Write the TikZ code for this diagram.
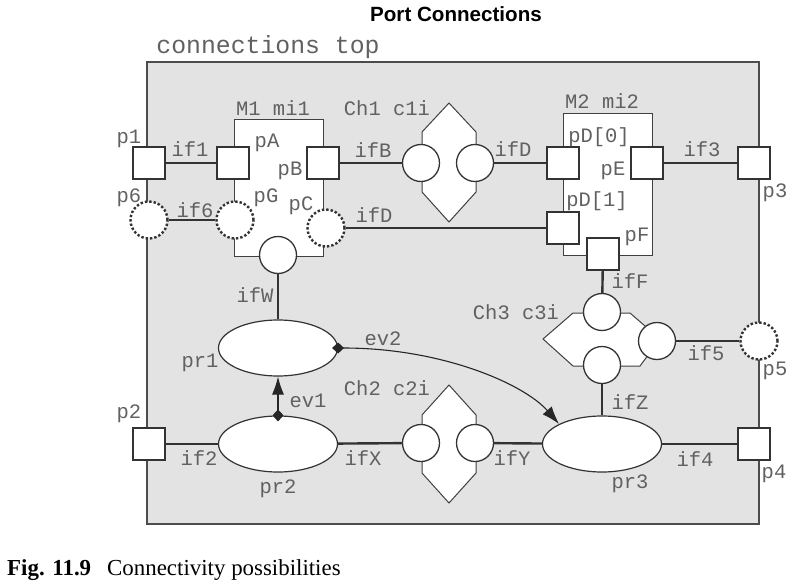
\documentclass[tikz,border=0pt]{standalone}
\usepackage{fontspec}
\setmainfont{Liberation Serif}
\setsansfont{Liberation Sans}
\setmonofont{Liberation Mono}
\usetikzlibrary{shapes.geometric,arrows.meta}

\begin{document}
\begin{tikzpicture}
  [x=1pt, y=-1pt,
    TopBox/.style={rectangle, draw=black!70, fill=black!11, line width=1.2pt, minimum width=612pt, minimum height=462pt, inner sep=0pt},
    ModNode/.style={rectangle, draw=black!75, fill=white, line width=1pt, inner sep=0pt},
    PortNode/.style={rectangle, draw=black!80, fill=white, line width=2pt, minimum size=32pt, inner sep=0pt},
    DotNode/.style={circle, draw=black!80, fill=white, line width=2.4pt, dash pattern=on 2.4pt off 2pt, minimum size=37pt, inner sep=0pt},
    CircNode/.style={circle, draw=black!80, fill=white, line width=1.3pt, minimum size=37pt, inner sep=0pt},
    ProcNode/.style={ellipse, draw=black!80, fill=white, line width=1.2pt, minimum width=119pt, minimum height=56pt, inner sep=0pt},
    ChanShape/.style={draw=black!75, fill=white, line width=1pt},
    LblNode/.style={font=\ttfamily\fontsize{20.5}{22}\selectfont, text=black!62, anchor=base, inner sep=0pt},
    Wire/.style={draw=black!80, line width=2.4pt},
    EvLine/.style={draw=black!85, line width=1.1pt, {Diamond[length=12pt,width=11pt]}-{Latex[length=18pt,width=12pt]}}]
    \useasboundingbox (0,0) rectangle (792,586);
    \node [font=\sffamily\bfseries\fontsize{20.6}{22}\selectfont, anchor=base] (title) at (456,22) {Port Connections};
    \node [LblNode, font=\ttfamily\fontsize{24.8}{26}\selectfont] (topname) at (268,53) {connections top};
    \node [TopBox] (top) at (453,293) {};
    \node [ModNode, minimum width=89pt, minimum height=137pt] (mi1) at (278.5,187.5) {};
    \node [ModNode, minimum width=89pt, minimum height=142pt] (mi2) at (607.5,184) {};
    \draw [ChanShape] (449,103) -- (476,132) -- (476,192) -- (449,222) -- (422,192) -- (422,132) -- cycle;
    \draw [ChanShape] (449,385) -- (476,415) -- (476,473) -- (449,503) -- (422,473) -- (422,415) -- cycle;
    \draw [ChanShape] (543,339) -- (573,313) -- (630,313) -- (660,339) -- (640,366) -- (573,366) -- cycle;
    \node [PortNode] (p1) at (149,163) {};
    \node [PortNode] (pA) at (233,163) {};
    \node [PortNode] (pB) at (323,163) {};
    \node [DotNode] (p6) at (149,220) {};
    \node [DotNode] (pG) at (235,220) {};
    \node [DotNode] (pC) at (326,228) {};
    \node [CircNode] (pW) at (278,255) {};
    \node [CircNode] (c1iL) at (421,163) {};
    \node [CircNode] (c1iR) at (475,163) {};
    \node [PortNode] (pD0) at (563,163) {};
    \node [PortNode] (pE) at (647,163) {};
    \node [PortNode] (pD1) at (563,228) {};
    \node [PortNode] (pF) at (603,254) {};
    \node [PortNode] (p3) at (754,163) {};
    \node [CircNode] (c3iT) at (602,312) {};
    \node [CircNode] (c3iB) at (602,365) {};
    \node [CircNode] (c3iR) at (657,341) {};
    \node [DotNode] (p5) at (759,341) {};
    \node [ProcNode] (pr1) at (278,348) {};
    \node [ProcNode] (pr2) at (278,444) {};
    \node [ProcNode] (pr3) at (602,444) {};
    \node [CircNode] (c2iL) at (421,443) {};
    \node [CircNode] (c2iR) at (475,443) {};
    \node [PortNode] (p2) at (149,444) {};
    \node [PortNode] (p4) at (754,444) {};
    \draw [Wire] (p1) -- (pA);
    \draw [Wire] (p6) -- (pG);
    \draw [Wire] (pB) -- (c1iL);
    \draw [Wire] (c1iR) -- (pD0);
    \draw [Wire] (pC) -- (pD1);
    \draw [Wire] (pE) -- (p3);
    \draw [Wire] (pF) -- (c3iT);
    \draw [Wire] (c3iR) -- (p5);
    \draw [Wire] (c3iB) -- (pr3);
    \draw [Wire] (pW) -- (pr1);
    \draw [Wire] (p2) -- (pr2);
    \draw [Wire] (pr2) -- (c2iL);
    \draw [Wire] (c2iR) -- (pr3);
    \draw [Wire] (pr3) -- (p4);
    \draw [EvLine] ([yshift=-6pt]pr2.north) -- (pr1.south);
    \draw [EvLine] ([xshift=-6pt]pr1.east) .. controls +(110,0) and +(-35,-40) .. (pr3.155);
    \node [LblNode] (lmi1) at (273,115) {M1 mi1};
    \node [LblNode] (lc1i) at (387,115) {Ch1 c1i};
    \node [LblNode] (lmi2) at (602,108) {M2 mi2};
    \node [LblNode] (lc2i) at (387,395) {Ch2 c2i};
    \node [LblNode] (lc3i) at (516,319) {Ch3 c3i};
    \node [LblNode] (lp1) at (129,143) {p1};
    \node [LblNode] (lp6) at (129,202) {p6};
    \node [LblNode] (lp2) at (129,418) {p2};
    \node [LblNode] (lp3) at (775,197) {p3};
    \node [LblNode] (lp5) at (775,375) {p5};
    \node [LblNode] (lp4) at (774,478) {p4};
    \node [LblNode] (lpA) at (267,147) {pA};
    \node [LblNode] (lpB) at (290,175) {pB};
    \node [LblNode] (lpG) at (266,202) {pG};
    \node [LblNode] (lpC) at (301,210) {pC};
    \node [LblNode] (lpD0) at (599,142) {pD[0]};
    \node [LblNode] (lpE) at (613,175) {pE};
    \node [LblNode] (lpD1) at (597,206) {pD[1]};
    \node [LblNode] (lpF) at (637,241) {pF};
    \node [LblNode] (lif1) at (190,156) {if1};
    \node [LblNode] (lif6) at (195,217) {if6};
    \node [LblNode] (lifB) at (373,157) {ifB};
    \node [LblNode] (lifDa) at (513,156) {ifD};
    \node [LblNode] (lifDb) at (374,222) {ifD};
    \node [LblNode] (lif3) at (702,156) {if3};
    \node [LblNode] (lifF) at (630,288) {ifF};
    \node [LblNode] (lif5) at (706,360) {if5};
    \node [LblNode] (lifW) at (255,302) {ifW};
    \node [LblNode] (lifZ) at (630,409) {ifZ};
    \node [LblNode] (lif2) at (199,465) {if2};
    \node [LblNode] (lifX) at (363,465) {ifX};
    \node [LblNode] (lifY) at (512,465) {ifY};
    \node [LblNode] (lif4) at (695,466) {if4};
    \node [LblNode] (lev1) at (308,407) {ev1};
    \node [LblNode] (lev2) at (383,345) {ev2};
    \node [LblNode] (lpr1) at (200,367) {pr1};
    \node [LblNode] (lpr2) at (278,493) {pr2};
    \node [LblNode] (lpr3) at (630,488) {pr3};
    \node [anchor=base west, inner sep=0pt, font=\fontsize{22.9}{24}\selectfont\bfseries] (figno) at (7,575) {Fig. 11.9};
    \node [anchor=base west, inner sep=0pt, font=\fontsize{22.9}{24}\selectfont] (caption) at (107,575) {Connectivity possibilities};
\end{tikzpicture}
\end{document}
